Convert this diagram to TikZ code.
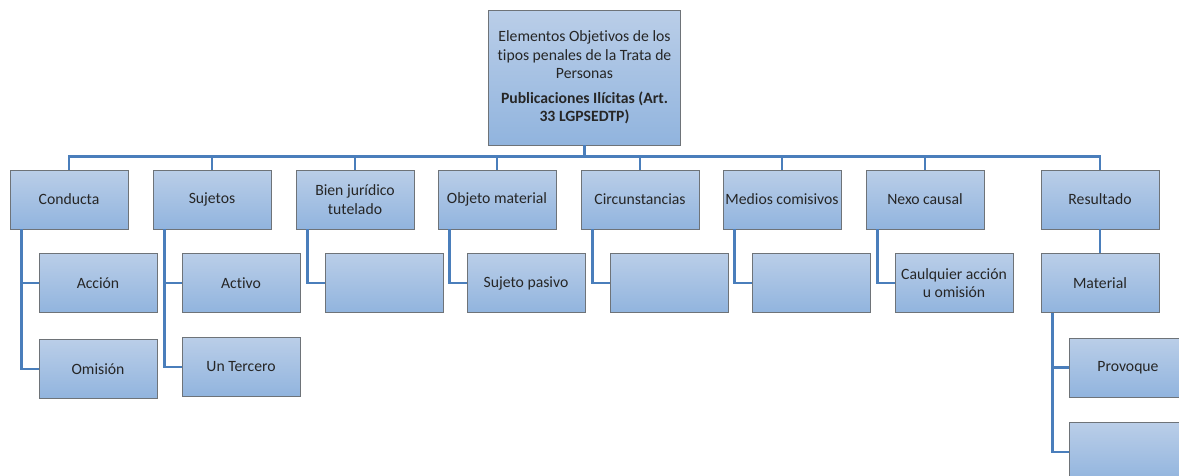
\documentclass[tikz,border=0pt]{standalone}
\usepackage{fontspec}
\setmainfont{Carlito}[Ligatures=NoCommon]
\usepackage{tikz}
\usetikzlibrary{positioning}

\definecolor{boxtop}{RGB}{186,206,232}
\definecolor{boxbottom}{RGB}{145,180,222}
\definecolor{boxline}{RGB}{110,115,120}
\definecolor{linkblue}{RGB}{74,126,187}

\begin{document}
\begin{tikzpicture}[
    x=1pt, y=-1pt,
    every node/.style={font=\fontsize{15.7}{18.5}\selectfont, align=center, text=black!85},
    box/.style={
        draw=boxline,
        line width=0.9pt,
        top color=boxtop,
        bottom color=boxbottom,
        minimum width=118pt,
        minimum height=59pt,
        inner sep=1pt
    },
    topbox/.style={
        box,
        minimum width=192pt,
        minimum height=135pt
    },
    link/.style={
        draw=linkblue,
        line width=2.6pt
    }
]
\useasboundingbox (0,0) rectangle (1179,475);

% root
\node[topbox] (root) at (584.5,77.5)
{Elementos Objetivos de los\\tipos penales de la Trata de\\Personas\\[6pt]
 \textbf{Publicaciones Ilícitas (Art.}\\\textbf{33 LGPSEDTP)}};

% first level
\node[box] (conducta) at (69,199.5) {Conducta};
\node[box] (sujetos) at (212,199.5) {Sujetos};
\node[box] (bien) at (355,199.5) {Bien jurídico\\tutelado};
\node[box] (objeto) at (497,199.5) {Objeto material};
\node[box] (circ) at (640,199.5) {Circunstancias};
\node[box] (medios) at (782,199.5) {Medios comisivos};
\node[box] (nexo) at (925,199.5) {Nexo causal};
\node[box] (resultado) at (1100,199.5) {Resultado};

% second level
\node[box] (accion) at (98,283) {Acción};
\node[box] (omision) at (98,369) {Omisión};
\node[box] (activo) at (241,283) {Activo};
\node[box] (tercero) at (241,367) {Un Tercero};
\node[box] (bienhijo) at (384,283) {};
\node[box] (pasivo) at (526,283) {Sujeto pasivo};
\node[box] (circhijo) at (669,283) {};
\node[box] (medioshijo) at (811,283) {};
\node[box] (cualquier) at (954,283) {Caulquier acción\\u omisión};
\node[box] (material) at (1100,283) {Material};
\node[box] (provoque) at (1128,367.5) {Provoque};
\node[box] (materialhijo) at (1128,452) {};

% connectors
\coordinate (bus) at ([yshift=-11pt]root.south);
\foreach \n in {conducta,sujetos,bien,objeto,circ,medios,nexo,resultado}
    \draw[link] (root.south) -- (bus) -| (\n.north);

\foreach \p/\c in {conducta/accion, conducta/omision, sujetos/activo, sujetos/tercero,
                   bien/bienhijo, objeto/pasivo, circ/circhijo, medios/medioshijo,
                   nexo/cualquier, material/provoque, material/materialhijo}
    \draw[link] ([xshift=12pt]\p.south west) |- (\c.west);

\draw[link] (resultado) -- (material);

\end{tikzpicture}
\end{document}
